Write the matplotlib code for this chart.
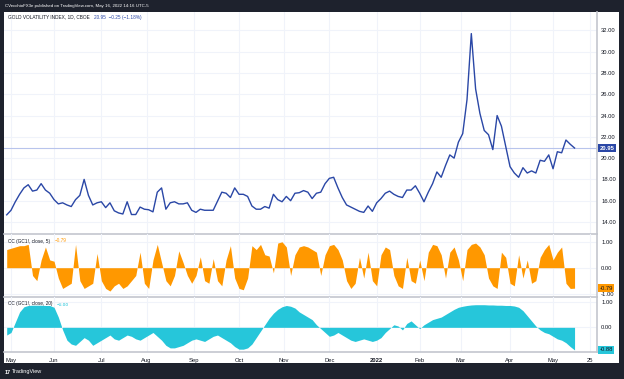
import numpy as np
import pandas as pd
import matplotlib
matplotlib.use('Agg')
import matplotlib.pyplot as plt
from matplotlib.patches import Rectangle
from pandas.tseries.offsets import CustomBusinessDay

plt.rcParams['font.family'] = ['Liberation Sans', 'DejaVu Sans']

# data: one value every second trading day, ending 2022-05-16
gvz = [14.67, 15.1, 15.9, 16.6, 17.2, 17.5, 16.9, 17.0, 17.6, 17.0,
       16.7, 16.1, 15.7, 15.8, 15.6, 15.45, 16.1, 16.5, 18.0, 16.5,
       15.6, 15.8, 15.9, 15.35, 15.8, 15.05, 14.85, 14.75, 15.9, 14.7,
       14.7, 15.4, 15.2, 15.15, 14.95, 16.8, 17.2, 15.2, 15.8, 15.9,
       15.7, 15.7, 15.8, 15.1, 14.9, 15.2, 15.1, 15.1, 15.1,
       15.95, 16.8, 16.7, 16.3, 17.2, 16.6, 16.6, 16.4, 15.5, 15.2,
       15.2, 15.45, 15.3, 16.6, 16.1, 15.9, 16.4, 16.0, 16.7, 16.75,
       16.95, 16.8, 16.2, 16.7, 16.8, 17.6, 18.1, 18.2, 17.2, 16.3,
       15.6, 15.4, 15.2, 15.0, 14.9, 15.5, 15.0, 15.8, 16.2, 16.7,
       16.9, 16.6, 16.4, 16.3, 17.0, 17.0, 17.4, 16.7, 15.9, 16.8,
       17.6, 18.7, 18.2, 19.3, 20.3, 20.0, 21.5, 22.3, 25.5, 31.7,
       26.5, 24.2, 22.6, 22.2, 20.8, 24.0, 23.0, 21.1, 19.2, 18.6,
       18.2, 19.1, 18.6, 18.8, 18.6, 19.8, 19.7, 20.3, 19.0, 20.6,
       20.5, 21.7, 21.3, 20.95]

cc5 = [0.7, 0.75, 0.8, 0.85, 0.85, 0.9, -0.3, -0.5, 0.3, 0.8, 0.3,
       0.25, -0.4, -0.8, -0.7, -0.6, 0.9, -0.5, -0.8, -0.7, -0.6,
       0.55, -0.5, -0.8, -0.9, -0.7, -0.6, -0.8, -0.7, -0.5, -0.3,
       0.6, -0.6, -0.8, 0.3, 0.9, 0.2, -0.5, -0.7, -0.3, 0.65,
       0.2, -0.3, -0.6, -0.3, 0.42, -0.5, -0.6, 0.35, -0.5, -0.7,
       0.3, 0.85, -0.4, -0.8, -0.85, -0.4, 0.85, 0.7, 0.9, 0.5,
       0.45, -0.2, 0.95, 1.0, 0.8, -0.3, 0.5, 0.8, 0.85, 0.8,
       0.7, 0.6, -0.3, 0.5, 0.85, 0.9, 0.7, 0.3, -0.5, -0.8,
       -0.6, 0.4, -0.4, 0.6, -0.5, -0.7, 0.5, 0.8, 0.7, -0.3,
       -0.7, -0.8, 0.4, -0.5, -0.6, 0.3, -0.5, 0.6, 0.9, 0.85,
       0.5, -0.4, 0.6, 0.8, 0.3, -0.5, 0.7, 0.9, 0.95, 0.8,
       0.5, -0.4, -0.7, -0.8, 0.6, 0.4, -0.6, -0.7, 0.5, -0.4,
       0.3, -0.6, -0.5, 0.4, 0.7, 0.9, 0.3, 0.6, 0.8, -0.6,
       -0.8, -0.79]

cc20 = [-0.3, -0.2, 0.2, 0.6, 0.8, 0.85, 0.86, 0.86, 0.86, 0.85, 0.85,
        0.78, 0.4, -0.1, -0.5, -0.65, -0.7, -0.55, -0.4, -0.5, -0.7,
        -0.6, -0.5, -0.4, -0.3, -0.45, -0.5, -0.4, -0.3, -0.35, -0.45,
        -0.5, -0.4, -0.3, -0.2, -0.35, -0.5, -0.7, -0.8, -0.8, -0.75,
        -0.7, -0.6, -0.5, -0.45, -0.5, -0.55, -0.45, -0.35, -0.3, -0.4,
        -0.5, -0.6, -0.75, -0.85, -0.85, -0.8, -0.65, -0.4, -0.15, 0.1,
        0.35, 0.55, 0.7, 0.8, 0.85, 0.82, 0.75, 0.6, 0.5, 0.4,
        0.3, 0.1, -0.05, -0.2, -0.35, -0.3, -0.2, -0.3, -0.4, -0.5,
        -0.55, -0.5, -0.45, -0.5, -0.55, -0.5, -0.4, -0.2, -0.05, 0.1,
        0.05, -0.1, 0.15, 0.25, 0.1, -0.05, 0.1, 0.2, 0.3, 0.35,
        0.4, 0.5, 0.6, 0.7, 0.78, 0.82, 0.85, 0.87, 0.88, 0.88,
        0.88, 0.87, 0.87, 0.86, 0.86, 0.85, 0.85, 0.83, 0.78, 0.65,
        0.45, 0.25, 0.05, -0.1, -0.2, -0.25, -0.35, -0.45, -0.5, -0.6,
        -0.75, -0.88]

month_labels = ['May', 'Jun', 'Jul', 'Aug', 'Sep', 'Oct', 'Nov', 'Dec',
                '2022', 'Feb', 'Mar', 'Apr', 'May']
month_starts = ['2021-05', '2021-06', '2021-07', '2021-08', '2021-09', '2021-10',
                '2021-11', '2021-12', '2022-01', '2022-02', '2022-03', '2022-04',
                '2022-05']
nyse_holidays = ['2021-05-31', '2021-07-05', '2021-09-06', '2021-11-25',
                 '2021-12-24', '2022-01-17', '2022-02-21', '2022-04-15',
                 '2022-05-30']
main_ticks = [14, 16, 18, 20, 22, 24, 26, 28, 30, 32]

# trading day axis (bar index, like TradingView)
days = pd.date_range('2021-04-28', '2022-05-31',
                     freq=CustomBusinessDay(holidays=nyse_holidays))
last_bar = days.get_loc(pd.Timestamp('2022-05-16'))
tick_pos = [int(np.argmax(days.strftime('%Y-%m') == m)) for m in month_starts]
tick_pos.append(days.get_loc(pd.Timestamp('2022-05-25')))
tick_lab = month_labels + ['25']


def xs(vals):
    n = len(vals)
    return last_bar - 2 * np.arange(n)[::-1]


W, H = 624, 379
BG = '#1e222d'
TXT = '#131722'
GRID = '#f0f3fa'
SEP = '#c3c6ce'
BLUE = '#2a47a6'
ORANGE = '#ff9800'
TEAL = '#26c6da'
FS = 3.4


def rect(x0, y0, x1, y1):
    return [x0 / W, 1 - y1 / H, (x1 - x0) / W, (y1 - y0) / H]


def fx(x):
    return x / W


def fy(y):
    return 1 - y / H


fig = plt.figure(figsize=(W / 100, H / 100), dpi=100, facecolor=BG)
fig.patches.append(Rectangle((fx(4), fy(363)), fx(619) - fx(4), fy(12) - fy(363),
                             transform=fig.transFigure, facecolor='white',
                             edgecolor='none', zorder=-10))

ax1 = fig.add_axes(rect(4, 12, 597, 234))
ax2 = fig.add_axes(rect(4, 234, 597, 297))
ax3 = fig.add_axes(rect(4, 297, 597, 352))

x_left = 3 - 7 / 2.147
x_right = last_bar + 22.4 / 2.147
for ax in (ax1, ax2, ax3):
    ax.set_facecolor('none')
    ax.set_xlim(x_left, x_right)
    ax.set_xticks(tick_pos)
    for s in ('top', 'left'):
        ax.spines[s].set_visible(False)
    for s in ('bottom', 'right'):
        ax.spines[s].set_color(SEP)
        ax.spines[s].set_linewidth(1.2)
    ax.yaxis.tick_right()
    ax.tick_params(axis='both', length=0, labelsize=4.2, colors=TXT, pad=3)
    ax.grid(True, color=GRID, linewidth=0.8)
    ax.set_axisbelow(True)

ax1.tick_params(axis='x', labelbottom=False)
ax2.tick_params(axis='x', labelbottom=False)

# main series
ax1.plot(xs(gvz), gvz, color=BLUE, linewidth=1.0, zorder=3)
ax1.set_ylim(12.87, 33.73)
ax1.set_yticks(main_ticks)
ax1.set_yticklabels(['%.2f' % t for t in main_ticks])
ax1.axhline(gvz[-1], color='#b8c4ec', linewidth=0.8, zorder=2)
ax1.text(1.004, gvz[-1], '%.2f' % gvz[-1], transform=ax1.get_yaxis_transform(),
         ha='left', va='center', fontsize=4.2, color='white', fontweight='bold',
         bbox=dict(boxstyle='square,pad=0.3', facecolor=BLUE, edgecolor='none'),
         zorder=5, clip_on=False)

# 5-day correlation
ax2.fill_between(xs(cc5), 0, cc5, color=ORANGE, linewidth=0, zorder=3)
ax2.set_ylim(-1.13, 1.30)
ax2.set_yticks([-1, 0, 1])
ax2.set_yticklabels(['-1.00', '0.00', '1.00'])
ax2.text(1.004, cc5[-1], '%.2f' % cc5[-1], transform=ax2.get_yaxis_transform(),
         ha='left', va='center', fontsize=4.2, color=TXT,
         bbox=dict(boxstyle='square,pad=0.3', facecolor=ORANGE, edgecolor='none'),
         zorder=5, clip_on=False)

# 20-day correlation
ax3.fill_between(xs(cc20), 0, cc20, color=TEAL, linewidth=0, zorder=3)
ax3.set_ylim(-0.96, 1.18)
ax3.set_yticks([0, 1])
ax3.set_yticklabels(['0.00', '1.00'])
ax3.text(1.004, cc20[-1], '%.2f' % cc20[-1], transform=ax3.get_yaxis_transform(),
         ha='left', va='center', fontsize=4.2, color=TXT,
         bbox=dict(boxstyle='square,pad=0.3', facecolor=TEAL, edgecolor='none'),
         zorder=5, clip_on=False)

ax3.set_xticklabels(tick_lab)
ax3.tick_params(axis='x', pad=4)
for lab in ax3.get_xticklabels():
    if lab.get_text() == '2022':
        lab.set_fontweight('bold')


def legend_line(y, name, value, color):
    t = fig.text(fx(8), fy(y), name, fontsize=FS, color=TXT, va='center')
    ax1.annotate(value, xy=(1, 0.5), xycoords=t, xytext=(3, 0),
                 textcoords='offset points', fontsize=FS, color=color,
                 va='center', ha='left', annotation_clip=False)


legend_line(17, 'GOLD VOLATILITY INDEX, 1D, CBOE', '20.95  \u22120.25 (\u22121.18%)', BLUE)
legend_line(241, 'CC (GC1!, close, 5)', '\u22120.79', ORANGE)
legend_line(304, 'CC (GC1!, close, 20)', '\u22120.88', TEAL)

# top and bottom bars
fig.text(fx(5), fy(6), 'CVecchioFX3e published on TradingView.com, May 16, 2022 14:16 UTC-5',
         fontsize=3.2, color='white', va='center', ha='left')
fig.text(fx(5), fy(372), '17', fontsize=4.0, color='white', fontweight='bold', va='center')
fig.text(fx(12), fy(372), 'TradingView', fontsize=4.0, color='white', va='center')

fig.savefig('out.png', dpi=100, facecolor=BG)
